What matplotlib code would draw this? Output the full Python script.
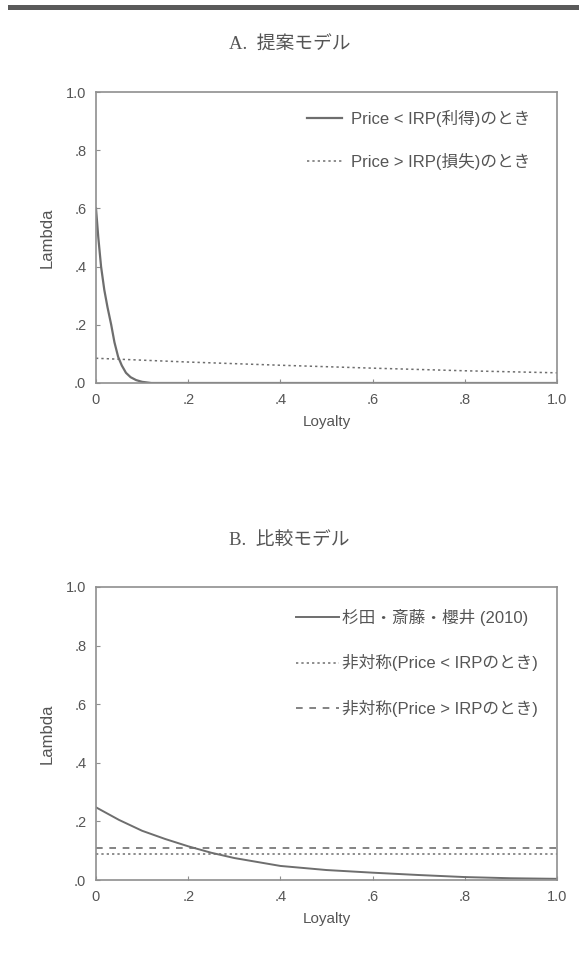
import matplotlib
matplotlib.use("Agg")
import matplotlib.pyplot as plt
from matplotlib.patches import Rectangle

# データ
loyalty_a_gain = [0, 0.005, 0.011, 0.018, 0.025, 0.033, 0.040, 0.048, 0.056,
                  0.065, 0.075, 0.087, 0.10, 0.12, 1.0]
lambda_a_gain = [0.60, 0.50, 0.40, 0.32, 0.26, 0.20, 0.14, 0.09, 0.06,
                 0.035, 0.02, 0.01, 0.004, 0.0, 0.0]
loyalty_a_loss = [0, 0.2, 0.4, 0.6, 0.8, 1.0]
lambda_a_loss = [0.085, 0.072, 0.061, 0.051, 0.042, 0.035]

loyalty_b = [0, 0.05, 0.1, 0.15, 0.2, 0.25, 0.3, 0.4, 0.5, 0.6, 0.7, 0.8, 0.9, 1.0]
lambda_b_sugita = [0.248, 0.205, 0.168, 0.140, 0.115, 0.093, 0.075, 0.048,
                   0.034, 0.025, 0.017, 0.010, 0.006, 0.004]
lambda_b_gain = [0.09] * len(loyalty_b)
lambda_b_loss = [0.11] * len(loyalty_b)

labels_a = ["Price < IRP(利得)のとき", "Price > IRP(損失)のとき"]
labels_b = ["杉田・斎藤・櫻井 (2010)", "非対称(Price < IRPのとき)", "非対称(Price > IRPのとき)"]
titles = ["A.  提案モデル", "B.  比較モデル"]

yticks = [0, 0.2, 0.4, 0.6, 0.8, 1.0]
ytick_labels = [".0", ".2", ".4", ".6", ".8", "1.0"]
xtick_labels = ["0", ".2", ".4", ".6", ".8", "1.0"]

TEXT = "#555555"
LINE = "#6e6e6e"
SPINE = "#8f8f8f"
SANS = ["Liberation Sans", "Noto Sans CJK JP"]
TITLE_FONT = ["Liberation Serif", "Noto Sans CJK JP"]

plt.rcParams["font.family"] = SANS


def style_axes(ax):
    ax.set_xlim(0, 1)
    ax.set_ylim(0, 1)
    ax.set_xticks(yticks)
    ax.set_xticklabels(xtick_labels)
    ax.set_yticks(yticks)
    ax.set_yticklabels(ytick_labels)
    ax.tick_params(direction="in", length=3, color=SPINE, labelcolor=TEXT,
                   labelsize=10.5, pad=7)
    for s in ax.spines.values():
        s.set_color(SPINE)
        s.set_linewidth(1.2)
    ax.set_xlabel("Loyalty", color=TEXT, fontsize=11, labelpad=6)
    ax.set_ylabel("Lambda", color=TEXT, fontsize=12, labelpad=8)


fig = plt.figure(figsize=(5.79, 9.58), dpi=100)

# 上部の帯
fig.add_artist(Rectangle((8 / 579, 1 - 10 / 958), 571 / 579, 5 / 958,
                         transform=fig.transFigure, color="#5a5a5a", lw=0))

# A. 提案モデル
ax1 = fig.add_axes([96 / 579, 1 - 383 / 958, 461 / 579, 291 / 958])
ax1.plot(loyalty_a_gain, lambda_a_gain, color=LINE, lw=1.6, label=labels_a[0])
ax1.plot(loyalty_a_loss, lambda_a_loss, color=LINE, lw=1.1, ls=(0, (1.5, 2)),
         label=labels_a[1])
style_axes(ax1)
ax1.legend(loc="upper right", bbox_to_anchor=(0.974, 0.99), frameon=False,
           fontsize=12, labelcolor=TEXT, handlelength=2.1, handletextpad=0.5,
           labelspacing=1.57)
fig.text(0.5, 1 - 45 / 958, titles[0], ha="center", va="center",
         fontsize=13.5, color=TEXT, family=TITLE_FONT)

# B. 比較モデル
ax2 = fig.add_axes([96 / 579, 1 - 880 / 958, 461 / 579, 293 / 958])
ax2.plot(loyalty_b, lambda_b_sugita, color=LINE, lw=1.4, label=labels_b[0])
ax2.plot(loyalty_b, lambda_b_gain, color=LINE, lw=1.1, ls=(0, (1.5, 2)),
         label=labels_b[1])
ax2.plot(loyalty_b, lambda_b_loss, color=LINE, lw=1.2, ls=(0, (4, 4)),
         label=labels_b[2])
style_axes(ax2)
ax2.legend(loc="upper right", bbox_to_anchor=(0.991, 0.976), frameon=False,
           fontsize=12, labelcolor=TEXT, handlelength=2.6, handletextpad=0.15,
           labelspacing=1.7)
fig.text(0.5, 1 - 540 / 958, titles[1], ha="center", va="center",
         fontsize=13.5, color=TEXT, family=TITLE_FONT)

fig.savefig("out.png", dpi=100)
